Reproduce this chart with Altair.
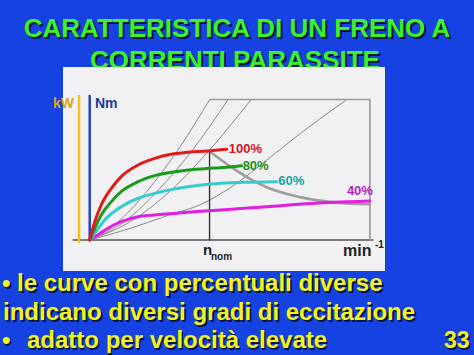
import altair as alt
import pandas as pd

# ---- data (x = speed, y = torque/power, arbitrary 0-100 units)
red_x = [0, 1.8, 4.1, 7.7, 11.2, 17.2, 23.1, 29.0, 34.9, 42.0, 48.7]
red_y = [0, 13.0, 24.9, 36.8, 45.1, 53.4, 58.1, 61.0, 62.4, 63.3, 64.6]
green_x = [0, 1.8, 4.1, 7.7, 11.2, 17.2, 23.1, 34.9, 42.1, 46.3, 54.0]
green_y = [0, 8.3, 17.8, 27.3, 34.4, 41.5, 45.8, 49.8, 51.0, 51.5, 52.9]
cyan_x = [0, 1.8, 5.3, 11.2, 17.2, 23.1, 34.9, 46.8, 57.0, 66.5]
cyan_y = [0, 4.8, 14.2, 23.7, 29.7, 33.2, 37.9, 40.4, 41.1, 41.4]
mag_x = [0, 1.8, 6.5, 11.2, 17.2, 23.1, 34.9, 46.8, 62.9, 86.5, 99.6]
mag_y = [0, 2.3, 8.3, 13.0, 16.6, 17.8, 19.7, 21.4, 23.7, 26.8, 27.8]

pow_x = [42.6, 51.0, 57.0, 62.9, 74.8, 86.5, 99.6]
pow_y = [63.0, 51.0, 43.5, 37.5, 30.5, 26.8, 25.4]

thinA_x = [0, 10.7, 21.3, 32.0, 42.66]
thinA_y = [0, 14, 37, 66, 100]
thinB_x = [0, 12.3, 24.6, 36.9, 49.2]
thinB_y = [0, 13, 36, 65, 100]
thinC_x = [0, 14.3, 28.7, 43.0, 57.4]
thinC_y = [0, 13, 35, 65, 100]
thinD_x = [0, 14, 28.5, 39.2, 52, 63, 75, 91.4]
thinD_y = [0, 8, 18, 25, 40, 57, 76, 100]

frame_x = [42.66, 99.6, 99.6]
frame_y = [100, 100, 0]
n_nom = 42.6
n_nom_top = 63.0

labels = ["100%", "80%", "60%", "40%"]
title_lines = ["CARATTERISTICA DI UN FRENO A", "CORRENTI PARASSITE"]
bullet_lines = ["le curve con percentuali diverse",
                "indicano diversi gradi di eccitazione",
                "adatto per velocità elevate"]
page_no = "33"

# ---- scales
W, H = 474, 355
xs = alt.Scale(domain=[-31.89, 136.6], nice=False, zero=False)
ys = alt.Scale(domain=[-81.85, 170.8], nice=False, zero=False)
FONT = "Liberation Sans"
BG = "#1742e2"


def curve(xv, yv, color, width, interp="monotone"):
    df = pd.DataFrame({"x": xv, "y": yv, "o": list(range(len(xv)))})
    return alt.Chart(df).mark_line(color=color, strokeWidth=width,
                                   interpolate=interp, strokeCap="round").encode(
        x=alt.X("x:Q", scale=xs, axis=None),
        y=alt.Y("y:Q", scale=ys, axis=None),
        order="o:O")


def txt(s, x, y, size, color, align="left", weight="bold", baseline="alphabetic"):
    return alt.Chart(pd.DataFrame({"t": [s]})).mark_text(
        text=s, font=FONT, fontSize=size, fontWeight=weight, color=color,
        align=align, baseline=baseline).encode(x=alt.value(x), y=alt.value(y))


def shadow_txt(s, x, y, size, color, align="left", off=2):
    return [txt(s, x + off, y + off, size, "#0a1440", align),
            txt(s, x, y, size, color, align)]


def dlabel(s, xv, yv, color, dx, dy, align="left"):
    df = pd.DataFrame({"x": [xv], "y": [yv]})
    return alt.Chart(df).mark_text(text=s, font=FONT, fontSize=13, fontWeight="bold",
                                   color=color, align=align, baseline="middle",
                                   dx=dx, dy=dy).encode(
        x=alt.X("x:Q", scale=xs, axis=None), y=alt.Y("y:Q", scale=ys, axis=None))


layers = []
# titles (drawn first; the picture panel covers the bottom of line 2)
layers += shadow_txt(title_lines[0], 237, 37, 26, "#3cf02a", "center")
layers += shadow_txt(title_lines[1], 235, 69, 26, "#3cf02a", "center")

# picture panel
panel = alt.Chart(pd.DataFrame({"a": [0]})).mark_rect(color="#f1f1f3").encode(
    x=alt.value(63), x2=alt.value(385), y=alt.value(67), y2=alt.value(271))
layers.append(panel)

# axes decorations
layers.append(curve([-5.9, 100.7], [0, 0], "#555555", 1.5, "linear"))
layers.append(curve([-3.8, -3.8], [-1.4, 102.5], "#f2c31a", 2.5, "linear"))
layers.append(curve([0, 0], [0, 102.5], "#2442c4", 2.5, "linear"))

# thin grey load lines and frame
for xv, yv in [(thinA_x, thinA_y), (thinB_x, thinB_y), (thinC_x, thinC_y), (thinD_x, thinD_y)]:
    layers.append(curve(xv, yv, "#8a8a8a", 1))
layers.append(curve(frame_x, frame_y, "#9a9a9a", 1.6, "linear"))

# power limit curve and n_nom line
layers.append(curve(pow_x, pow_y, "#9e9e9e", 2.6))
layers.append(curve([n_nom, n_nom], [0, n_nom_top], "#333333", 1.4, "linear"))

# excitation curves
layers.append(curve(mag_x, mag_y, "#e21ee0", 3))
layers.append(curve(cyan_x, cyan_y, "#36cccc", 3))
layers.append(curve(green_x, green_y, "#1c9a1c", 3))
layers.append(curve(red_x, red_y, "#e01a1a", 3))

# curve labels
layers.append(dlabel(labels[0], red_x[-1], red_y[-1], "#d0161e", 2, 0))
layers.append(dlabel(labels[1], green_x[-1], green_y[-1], "#1a8f1a", 1, 0))
layers.append(dlabel(labels[2], cyan_x[-1], cyan_y[-1], "#1ea4a4", 1.5, -0.5))
layers.append(dlabel(labels[3], mag_x[-1], mag_y[-1], "#b81cc0", 3, -10, "right"))

# axis names
layers.append(txt("kW", 53, 108, 14, "#dca51c"))
layers.append(txt("Nm", 95, 108, 14, "#1c3a9c"))
layers.append(txt("n", 203, 255, 15, "#1e1e1e"))
layers.append(txt("nom", 211, 260, 10, "#1e1e1e"))
layers.append(txt("min", 343, 256, 16, "#1e1e1e"))
layers.append(txt("-1", 375, 248, 10, "#1e1e1e"))

# bullets
YEL = "#f4f41e"
layers += shadow_txt("•", 2, 291, 24, YEL)
layers += shadow_txt(bullet_lines[0], 17, 291, 24, YEL)
layers += shadow_txt(bullet_lines[1], 3, 320, 24, YEL)
layers += shadow_txt("•", 2, 348, 24, YEL, off=1.5)
layers += shadow_txt(bullet_lines[2], 27, 348, 24, YEL, off=1.5)
layers += shadow_txt(page_no, 444, 348, 23, YEL, off=1.5)

chart = alt.layer(*layers).properties(
    width=W, height=H, background=BG, padding=0,
    autosize=alt.AutoSizeParams(type="none")
).configure_view(stroke=None)

chart.save("out.html", embed_options={"renderer": "svg", "actions": False})
